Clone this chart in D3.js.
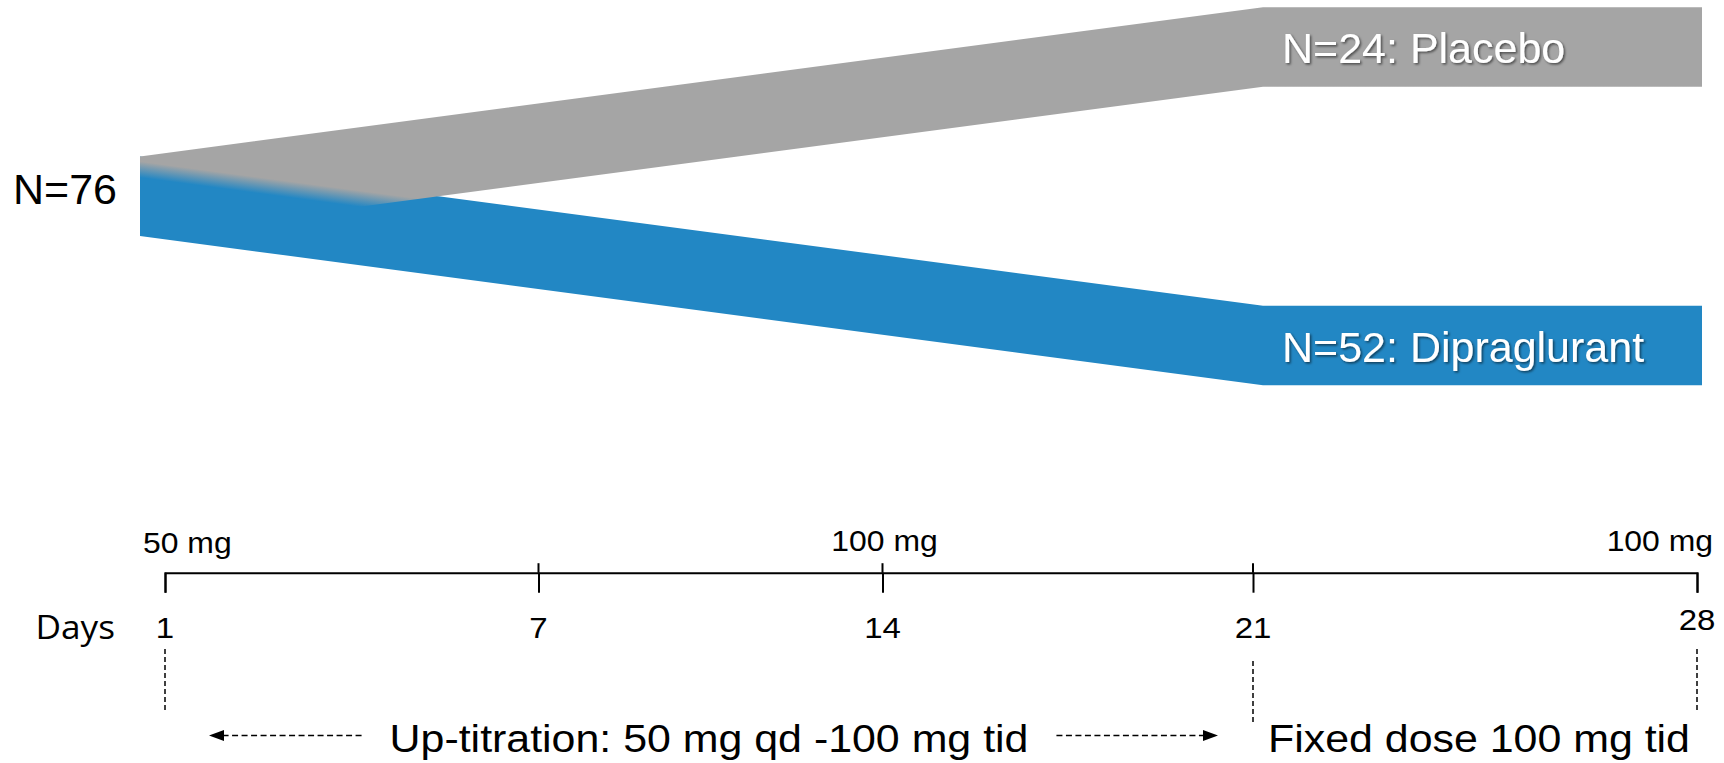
<!DOCTYPE html>
<html><head><meta charset="utf-8">
<script src="https://cdn.jsdelivr.net/npm/d3@7"></script>
<style>
html,body{margin:0;padding:0;background:#fff;}
svg{display:block;}
text{font-family:"Liberation Sans",Arial,sans-serif;}
</style></head>
<body><svg id="chart" width="1724" height="763"></svg>
<script>
// ---------------- data ----------------
const totalLabel = "N=76";
const armNames = ["Placebo", "Dipraglurant"];
const armN = [24, 52];
const armDirection = [-1, 1];          // placebo branches up, dipraglurant down
const flowDays = [1, 21, 28];          // start, split completed, end of study
const dayTicks = [1, 7, 14, 21, 28];
const doseDays = [1, 14, 28];
const doseLabels = ["50 mg", "100 mg", "100 mg"];
const phaseBounds = [[1, 21], [21, 28]];
const phaseLabels = ["Up-titration: 50 mg qd -100 mg tid", "Fixed dose 100 mg tid"];
const phaseMarkDays = [1, 21, 28];
const axisTitle = "Days";

// ---------------- layout / scales ----------------
const svg = d3.select("#chart");
const defs = svg.append("defs");
const armColor = d3.scaleOrdinal().domain(armNames).range(["#A5A5A5", "#2287C4"]);
const xFlow = d3.scaleLinear().domain(flowDays).range([140, 1263, 1702]);
const yFlow = d3.scaleLinear().domain([-1, 1]).range([47, 345.5]);
const bandH = 79.5;
const xDay = d3.scaleLinear().domain(dayTicks).range([165, 538.5, 882.5, 1253, 1697]);
const axisY = 572.7;
const stretch = 1.1;

// shadow filter for labels on bands
const f = defs.append("filter").attr("id", "shadow")
  .attr("x", "-10%").attr("y", "-30%").attr("width", "130%").attr("height", "170%");
f.append("feDropShadow").attr("dx", 1.5).attr("dy", 1.5).attr("stdDeviation", 1)
  .attr("flood-color", "#000").attr("flood-opacity", 0.55);

// ---------------- flow bands ----------------
const line = d3.line();
function bandPoints(dir) {
  const x0 = xFlow(flowDays[0]), x1 = xFlow(flowDays[1]), x2 = xFlow(flowDays[2]);
  const yc0 = yFlow(0), yc1 = yFlow(dir);
  return [[x0, yc0 - bandH / 2], [x1, yc1 - bandH / 2], [x2, yc1 - bandH / 2],
          [x2, yc1 + bandH / 2], [x1, yc1 + bandH / 2], [x0, yc0 + bandH / 2]];
}

// gradient for the upper band: opaque everywhere except where it overlies the
// lower band near the common start, where it fades out
(function () {
  const x0 = xFlow(flowDays[0]), x1 = xFlow(flowDays[1]);
  const y0 = yFlow(0), yDn = yFlow(armDirection[1]);
  const off = 13, hw = 8;
  const dx = x1 - x0, dy = yDn - y0, len = Math.hypot(dx, dy);
  const nx = -dy / len, ny = dx / len;
  const cx = x0, cy = y0 - bandH / 2 + off;
  const grad = defs.append("linearGradient").attr("id", "fade")
    .attr("gradientUnits", "userSpaceOnUse")
    .attr("x1", cx - hw * nx).attr("y1", cy - hw * ny)
    .attr("x2", cx + hw * nx).attr("y2", cy + hw * ny);
  grad.append("stop").attr("offset", 0).attr("stop-color", armColor(armNames[0])).attr("stop-opacity", 1);
  grad.append("stop").attr("offset", 1).attr("stop-color", armColor(armNames[0])).attr("stop-opacity", 0);
})();

const gBands = svg.append("g");
// lower arm first, upper (fading) arm on top
armNames.map((n, i) => i).reverse().forEach(i => {
  gBands.append("path")
    .attr("d", line(bandPoints(armDirection[i])) + "Z")
    .attr("fill", i === 0 ? "url(#fade)" : armColor(armNames[i]));
});

// arm labels
armNames.forEach((name, i) => {
  svg.append("text")
    .attr("x", xFlow(flowDays[1]) + 19)
    .attr("y", yFlow(armDirection[i]) + 16)
    .attr("font-size", 43).attr("fill", "#fff")
    .attr("filter", "url(#shadow)")
    .text(`N=${armN[i]}: ${name}`);
});

// total label
svg.append("text")
  .attr("x", xFlow(flowDays[0]) - 23).attr("y", yFlow(0) + 8)
  .attr("text-anchor", "end").attr("font-size", 43).attr("fill", "#000")
  .text(totalLabel);

// ---------------- timeline ----------------
const axis = d3.axisBottom(xDay).tickValues(dayTicks)
  .tickSizeInner(20).tickSizeOuter(20).tickFormat("");
const gAxis = svg.append("g").attr("transform", `translate(0,${axisY})`).call(axis);
gAxis.selectAll("path,line").attr("stroke", "#000").attr("stroke-width", 2);

// upward part of interior ticks
gAxis.selectAll(".up").data(dayTicks.slice(1, -1)).enter().append("line")
  .attr("x1", d => xDay(d)).attr("x2", d => xDay(d))
  .attr("y1", -9.5).attr("y2", 0)
  .attr("stroke", "#000").attr("stroke-width", 2);

function stretchText(sel, x, y) {
  return sel.attr("transform", `translate(${x},${y}) scale(${stretch},1)`);
}

// day numbers
dayTicks.forEach((d, i) => {
  const t = svg.append("text").attr("text-anchor", "middle")
    .attr("font-size", 30).attr("fill", "#000").text(d);
  stretchText(t, xDay(d), i === dayTicks.length - 1 ? 630 : 637.5);
});

// axis title
stretchText(svg.append("text").attr("text-anchor", "end")
  .style("font-family", "'Open Sans', sans-serif")
  .attr("font-size", 32).attr("fill", "#000").text(axisTitle), xDay(dayTicks[0]) - 50, 638.5);

// dose labels
doseDays.forEach((d, i) => {
  const anchor = i === 0 ? "start" : (i === doseDays.length - 1 ? "end" : "middle");
  const off = i === 0 ? -22 : (i === doseDays.length - 1 ? 16 : 2);
  const t = svg.append("text").attr("text-anchor", anchor)
    .attr("font-size", 29).attr("fill", "#000").text(doseLabels[i]);
  stretchText(t, xDay(d) + off, i === 0 ? 553 : 551);
});

// dashed phase markers
phaseMarkDays.forEach((d, i) => {
  const shift = i === 1 ? 12 : 0;
  svg.append("line")
    .attr("x1", xDay(d)).attr("x2", xDay(d))
    .attr("y1", 649 + shift).attr("y2", 711 + shift)
    .attr("stroke", "#000").attr("stroke-width", 1.5)
    .attr("stroke-dasharray", "5,3");
});

// phase labels
const arrowY = 735.5;
function arrow(from, to) {
  const dir = Math.sign(to - from);
  const head = 15;
  svg.append("line")
    .attr("x1", from).attr("x2", to - dir * head)
    .attr("y1", arrowY).attr("y2", arrowY)
    .attr("stroke", "#000").attr("stroke-width", 1.5)
    .attr("stroke-dasharray", "6,3.5");
  svg.append("path")
    .attr("d", line([[to, arrowY], [to - dir * head, arrowY - 5.5], [to - dir * head, arrowY + 5.5]]) + "Z")
    .attr("fill", "#000");
}
phaseLabels.forEach((lab, i) => {
  const [a, b] = phaseBounds[i];
  const cx = (xDay(a) + xDay(b)) / 2 + (i === 1 ? 4 : 0);
  const t = svg.append("text").attr("text-anchor", "middle")
    .attr("font-size", 39).attr("fill", "#000").text(lab);
  stretchText(t, cx, 752);
  if (i === 0) {
    const w = t.node().getComputedTextLength() * stretch;
    arrow(cx - w / 2 - 28, xDay(a) + 44);
    arrow(cx + w / 2 + 28, xDay(b) - 35);
  }
});
</script>
</body></html>
